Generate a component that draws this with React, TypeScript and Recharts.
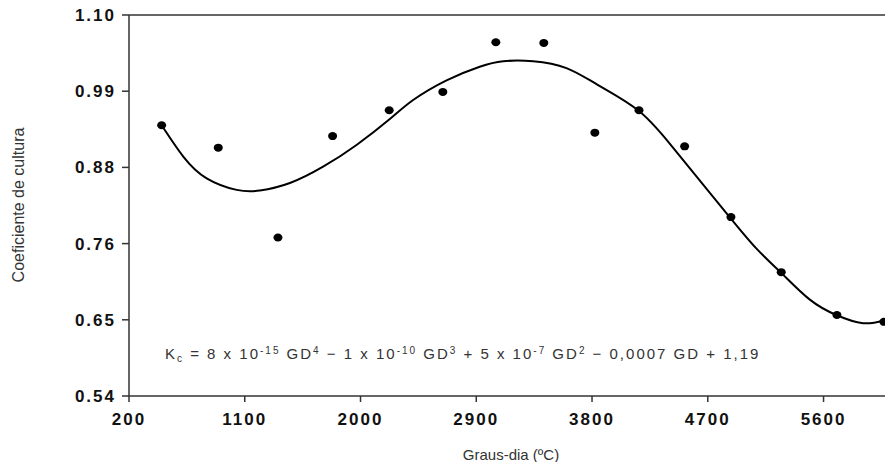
import React from 'react';
import {
  ComposedChart,
  Line,
  Scatter,
  XAxis,
  YAxis,
  ReferenceLine,
  Customized,
} from 'recharts';

// Observed crop coefficient (Kc) vs accumulated degree-days
const obsGD = [454, 894, 1358, 1783, 2223, 2640, 3052, 3425, 3822, 4165, 4520, 4880, 5271, 5704, 6069];
const obsKc = [0.938, 0.905, 0.773, 0.922, 0.96, 0.987, 1.06, 1.059, 0.927, 0.96, 0.907, 0.803, 0.722, 0.659, 0.649];

// Fitted polynomial
const fitGD = [454, 622, 804, 1037, 1218, 1451, 1709, 1969, 2228, 2409, 2669, 2927, 3109, 3342, 3601, 3847, 4158, 4404, 4637, 4870, 5077, 5271, 5491, 5699, 5906, 6069];
const fitKc = [0.938, 0.892, 0.86, 0.843, 0.842, 0.853, 0.877, 0.909, 0.947, 0.975, 1.004, 1.024, 1.032, 1.032, 1.022, 0.997, 0.96, 0.911, 0.857, 0.803, 0.757, 0.721, 0.682, 0.659, 0.647, 0.651];

const xTicks = [200, 1100, 2000, 2900, 3800, 4700, 5600];
const yTicks = [0.54, 0.652, 0.764, 0.876, 0.988, 1.1];

const observed = obsGD.map((gd, i) => ({ gd, kc: obsKc[i] }));
const fitted = fitGD.map((gd, i) => ({ gd, kc: fitKc[i] }));

const tickStyle = {
  fontFamily: '"Liberation Sans", Arial, sans-serif',
  fontSize: 17,
  fontWeight: 700,
  fill: '#111',
  letterSpacing: 2,
};

function Dot(props: { cx?: number; cy?: number }) {
  const { cx, cy } = props;
  if (cx == null || cy == null) return null;
  return <ellipse cx={cx} cy={cy} rx={4.5} ry={4} fill="#000" />;
}

function Equation() {
  const sup = { fontSize: 10 };
  return (
    <text
      x={165}
      y={359}
      fontFamily='"Liberation Sans", Arial, sans-serif'
      fontSize={15}
      fill="#333"
      letterSpacing={2}
    >
      K<tspan dy={3} {...sup}>c</tspan>
      <tspan dy={-3}> = 8 x 10</tspan>
      <tspan dy={-5} {...sup}>-15</tspan>
      <tspan dy={5}> GD</tspan>
      <tspan dy={-5} {...sup}>4</tspan>
      <tspan dy={5}> − 1 x 10</tspan>
      <tspan dy={-5} {...sup}>-10</tspan>
      <tspan dy={5}> GD</tspan>
      <tspan dy={-5} {...sup}>3</tspan>
      <tspan dy={5}> + 5 x 10</tspan>
      <tspan dy={-5} {...sup}>-7</tspan>
      <tspan dy={5}> GD</tspan>
      <tspan dy={-5} {...sup}>2</tspan>
      <tspan dy={5}> − 0,0007 GD + 1,19</tspan>
    </text>
  );
}

function YTitle() {
  return (
    <text
      x={24}
      y={205}
      transform="rotate(-90, 24, 205)"
      textAnchor="middle"
      fontFamily='"Liberation Sans", Arial, sans-serif'
      fontSize={16}
      fill="#333"
    >
      Coeficiente de cultura
    </text>
  );
}

export default function App() {
  return (
    <div style={{ margin: -8, width: 893, height: 470, background: '#fff' }}>
      <ComposedChart
        width={893}
        height={470}
        margin={{ top: 15, right: 0, bottom: 0, left: 0 }}
      >
        <XAxis
          type="number"
          dataKey="gd"
          domain={[200, 6140]}
          ticks={xTicks}
          allowDataOverflow
          height={74}
          tickSize={6}
          tickMargin={11}
          tick={tickStyle}
          stroke="#333"
          strokeWidth={1.5}
          label={{
            value: 'Graus-dia (ºC)',
            position: 'insideBottom',
            offset: 10,
            style: {
              fontFamily: '"Liberation Sans", Arial, sans-serif',
              fontSize: 15,
              fill: '#333',
            },
          }}
        />
        <YAxis
          type="number"
          dataKey="kc"
          domain={[0.54, 1.1]}
          ticks={yTicks}
          width={129}
          tickSize={7}
          tickMargin={6}
          tick={tickStyle}
          tickFormatter={(v: number) => v.toFixed(2)}
          stroke="#333"
          strokeWidth={1.5}
        />
        <ReferenceLine y={1.1} stroke="#333" strokeWidth={1.5} ifOverflow="visible" />
        <Line
          data={fitted}
          dataKey="kc"
          type="natural"
          stroke="#000"
          strokeWidth={2}
          dot={false}
          activeDot={false}
          isAnimationActive={false}
        />
        <Scatter
          data={observed}
          dataKey="kc"
          fill="#000"
          shape={<Dot />}
          isAnimationActive={false}
        />
        <Customized component={Equation} />
        <Customized component={YTitle} />
      </ComposedChart>
    </div>
  );
}
